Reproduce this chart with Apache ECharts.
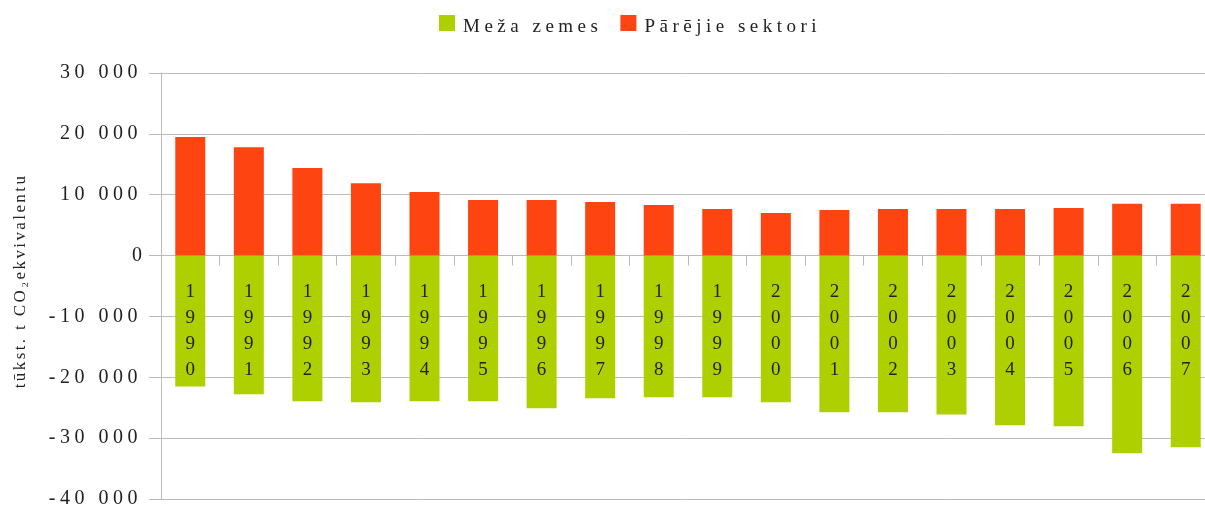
<!DOCTYPE html>
<html>
<head>
<meta charset="utf-8">
<script src="https://cdn.jsdelivr.net/npm/echarts@6.0.0/dist/echarts.min.js"></script>
<style>
  html, body { margin: 0; padding: 0; background: #fff; }
  #chart { width: 1205px; height: 508px; }
</style>
</head>
<body>
<div id="chart"></div>
<script>
// gadi
const years = ['1990', '1991', '1992', '1993', '1994', '1995', '1996', '1997', '1998',
  '1999', '2000', '2001', '2002', '2003', '2004', '2005', '2006', '2007']

// Meža zemes (piesaiste, negatīvas vērtības)
const forestLand = [-21500, -22800, -23950, -24100, -23950, -23950, -25100, -23450, -23300,
  -23300, -24100, -25750, -25750, -26100, -27900, -28050, -32500, -31500]

// Pārējie sektori
const otherSectors = [19500, 17800, 14400, 11900, 10450, 9150, 9150, 8800, 8300,
  7650, 7000, 7500, 7650, 7650, 7650, 7800, 8500, 8500]

const legendNames = ['Meža zemes', 'Pārējie sektori']
const axisName = 'tūkst. t CO₂ekvivalentu'

const FONT = 'Liberation Serif'

// retināts teksts kā oriģinālā: atstarpe starp burtiem pēc fonta izmēra
const spacingFor = (text, font) => {
  if (!text || String(text).length <= 1) return '0px'
  if (font && font.indexOf('17px') >= 0) return '2.4px'
  return '4.5px'
}

const proto = CanvasRenderingContext2D.prototype
if ('letterSpacing' in proto) {
  const origFill = proto.fillText
  const origMeasure = proto.measureText
  proto.fillText = function (t, x, y, w) {
    this.letterSpacing = spacingFor(t, this.font)
    return w === undefined ? origFill.call(this, t, x, y) : origFill.call(this, t, x, y, w)
  }
  proto.measureText = function (t) {
    this.letterSpacing = spacingFor(t, this.font)
    return origMeasure.call(this, t)
  }
}

const chart = echarts.init(document.getElementById('chart'), null, { renderer: 'canvas' })

const fmtThousands = v => String(v).replace(/\B(?=(\d{3})+(?!\d))/g, ' ')

const option = {
  backgroundColor: '#fff',
  animation: false,
  legend: {
    data: legendNames,
    left: 439,
    top: 15,
    padding: 0,
    itemWidth: 16,
    itemHeight: 24,
    itemGap: 18,
    // kvadrāts augšā, teksts nedaudz zemāk kā oriģinālā
    icon: 'path://M0,0L16,0L16,16L0,16Z M0,24',
    textStyle: {
      fontFamily: FONT,
      fontSize: 19,
      color: '#222',
      padding: [0, 0, 0, 3]
    }
  },
  grid: {
    left: 161,
    right: -10,
    top: 73,
    bottom: 9,
    containLabel: false,
    outerBoundsMode: 'none'
  },
  xAxis: {
    type: 'category',
    data: years,
    axisLine: { onZero: true, lineStyle: { color: '#bbbbbb', width: 1 } },
    axisTick: { show: true, length: 10, lineStyle: { color: '#bbbbbb' } },
    axisLabel: { show: false },
    splitLine: { show: false }
  },
  yAxis: {
    type: 'value',
    min: -40000,
    max: 30000,
    interval: 10000,
    name: axisName,
    nameLocation: 'middle',
    nameRotate: 90,
    nameGap: 132,
    nameTextStyle: {
      fontFamily: FONT,
      fontSize: 17,
      color: '#222',
      padding: [0, 0, 0, 10]
    },
    axisLine: { show: true, lineStyle: { color: '#bbbbbb', width: 1 } },
    axisTick: { show: true, length: 12, lineStyle: { color: '#bbbbbb' } },
    axisLabel: {
      margin: 19,
      fontFamily: FONT,
      fontSize: 20,
      color: '#222',
      formatter: fmtThousands
    },
    splitLine: { show: true, lineStyle: { color: '#bbbbbb', width: 1 } }
  },
  series: [
    {
      name: legendNames[0],
      type: 'bar',
      data: forestLand,
      barWidth: 30,
      barGap: '-100%',
      itemStyle: { color: '#aed000' },
      // gada cipari vertikāli zaļo stabiņu augšā
      label: {
        show: true,
        position: 'insideTop',
        distance: 23,
        fontFamily: FONT,
        fontSize: 19,
        lineHeight: 26,
        color: '#222',
        formatter: p => p.name.split('').join('\n')
      }
    },
    {
      name: legendNames[1],
      type: 'bar',
      data: otherSectors,
      barWidth: 30,
      barGap: '-100%',
      itemStyle: { color: '#fe4411' }
    }
  ]
}

chart.setOption(option)
</script>
</body>
</html>
